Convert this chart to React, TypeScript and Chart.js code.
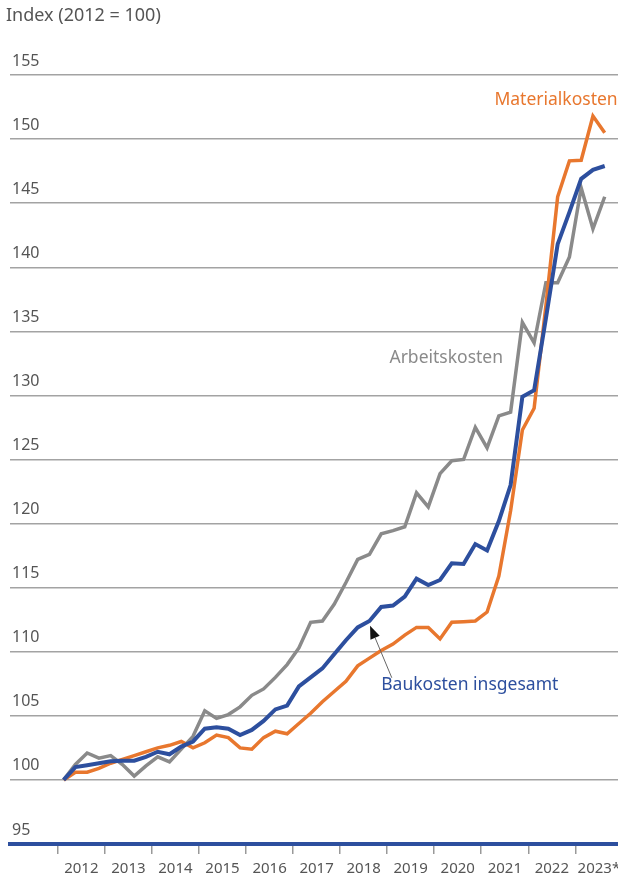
import { useEffect, useRef } from "react";
import { Chart, registerables } from "chart.js";

Chart.register(...registerables);

// Quarterly values, 2012 Q1 … 2023 Q3 (index 2012 = 100)
const yearLabels = ["2012", "2013", "2014", "2015", "2016", "2017", "2018", "2019", "2020", "2021", "2022", "2023*"];

const baukosten = [
  100.0, 101.0, 101.15, 101.3, 101.45, 101.5, 101.5, 101.8, 102.2, 102.0, 102.6, 103.0,
  104.0, 104.1, 104.0, 103.5, 103.9, 104.6, 105.5, 105.8, 107.3, 108.0, 108.7, 109.8,
  110.9, 111.9, 112.4, 113.5, 113.6, 114.3, 115.7, 115.2, 115.6, 116.9, 116.85, 118.4,
  117.9, 120.2, 123.0, 129.9, 130.4, 136.0, 141.8, 144.3, 146.9, 147.6, 147.9,
];

const materialkosten = [
  100.0, 100.6, 100.6, 100.9, 101.3, 101.6, 101.9, 102.2, 102.5, 102.7, 103.0, 102.5,
  102.9, 103.5, 103.3, 102.5, 102.4, 103.3, 103.8, 103.6, 104.4, 105.2, 106.1, 106.9,
  107.7, 108.9, 109.5, 110.1, 110.6, 111.3, 111.9, 111.9, 111.0, 112.3, 112.35, 112.4,
  113.1, 115.9, 121.0, 127.3, 129.0, 137.0, 145.5, 148.3, 148.35, 151.8, 150.5,
];

const arbeitskosten = [
  100.0, 101.2, 102.1, 101.7, 101.9, 101.2, 100.3, 101.1, 101.8, 101.4, 102.4, 103.4,
  105.4, 104.8, 105.1, 105.7, 106.6, 107.1, 108.0, 109.0, 110.3, 112.3, 112.4, 113.7,
  115.4, 117.2, 117.6, 119.2, 119.45, 119.75, 122.4, 121.3, 123.9, 124.9, 125.0, 127.5,
  125.9, 128.4, 128.7, 135.7, 134.1, 138.8, 138.8, 140.8, 146.2, 143.0, 145.5,
];

const yMin = 95;
const yMax = 155;
const yStep = 5;
const xMin = -4.56;
const xMax = 47.13;

const BLUE = "#2d4f9e";
const ORANGE = "#e8772e";
const GRAY = "#8a8a8a";
const TEXT = "#555555";
const FONT = '"Noto Sans", "Open Sans", sans-serif';

// Series labels anchored in data units (x = quarter index, y = index value)
const seriesLabels = [
  { text: "Materialkosten", color: ORANGE, x: 47.1, y: 153.05, align: "right" as CanvasTextAlign },
  { text: "Arbeitskosten", color: GRAY, x: 27.7, y: 132.9, align: "left" as CanvasTextAlign },
  { text: "Baukosten insgesamt", color: BLUE, x: 27.0, y: 107.4, align: "left" as CanvasTextAlign },
];
const arrowFrom = { x: 27.9, y: 107.97 };
const arrowTo = { x: 26.05, y: 112.03 };

const toPoints = (arr: number[]) => arr.map((y, i) => ({ x: i, y }));

const labelPlugin = {
  id: "seriesLabels",
  afterDatasetsDraw(chart: any) {
    const { ctx, scales } = chart;
    const xs = scales.x;
    const ys = scales.y;
    ctx.save();
    ctx.font = `17.5px ${FONT}`;
    ctx.textBaseline = "middle";
    for (const l of seriesLabels) {
      ctx.fillStyle = l.color;
      ctx.textAlign = l.align;
      ctx.fillText(l.text, xs.getPixelForValue(l.x), ys.getPixelForValue(l.y));
    }
    // arrow
    const x1 = xs.getPixelForValue(arrowFrom.x);
    const y1 = ys.getPixelForValue(arrowFrom.y);
    const x2 = xs.getPixelForValue(arrowTo.x);
    const y2 = ys.getPixelForValue(arrowTo.y);
    const ang = Math.atan2(y2 - y1, x2 - x1);
    const headLen = 13;
    const headW = 5;
    const bx = x2 - headLen * Math.cos(ang);
    const by = y2 - headLen * Math.sin(ang);
    ctx.strokeStyle = "#666666";
    ctx.lineWidth = 1;
    ctx.beginPath();
    ctx.moveTo(x1, y1);
    ctx.lineTo(bx, by);
    ctx.stroke();
    ctx.fillStyle = "#111111";
    ctx.beginPath();
    ctx.moveTo(x2, y2);
    ctx.lineTo(bx + headW * Math.sin(ang), by - headW * Math.cos(ang));
    ctx.lineTo(bx - headW * Math.sin(ang), by + headW * Math.cos(ang));
    ctx.closePath();
    ctx.fill();
    ctx.restore();
  },
};

export default function App() {
  const canvasRef = useRef<HTMLCanvasElement | null>(null);

  useEffect(() => {
    if (!canvasRef.current) return;
    Chart.defaults.font.family = FONT;
    const chart = new Chart(canvasRef.current, {
      type: "line",
      data: {
        datasets: [
          {
            label: "Baukosten insgesamt",
            data: toPoints(baukosten),
            borderColor: BLUE,
            borderWidth: 4,
            pointRadius: 0,
            tension: 0,
          },
          {
            label: "Materialkosten",
            data: toPoints(materialkosten),
            borderColor: ORANGE,
            borderWidth: 3.5,
            pointRadius: 0,
            tension: 0,
          },
          {
            label: "Arbeitskosten",
            data: toPoints(arbeitskosten),
            borderColor: GRAY,
            borderWidth: 3.5,
            pointRadius: 0,
            tension: 0,
          },
        ],
      },
      options: {
        animation: false,
        responsive: false,
        devicePixelRatio: 1,
        layout: { padding: { left: 6, right: 0, top: 0, bottom: -7 } },
        plugins: {
          legend: { display: false },
          tooltip: { enabled: false },
          title: {
            display: true,
            text: "Index (2012 = 100)",
            align: "start",
            color: TEXT,
            font: { size: 18, weight: "normal", family: FONT },
            padding: { top: 5, bottom: 48.4 },
          },
        },
        scales: {
          x: {
            type: "linear",
            min: xMin,
            max: xMax,
            afterBuildTicks: (scale: any) => {
              scale.ticks = yearLabels.map((_, k) => ({ value: -0.5 + 4 * k }));
            },
            ticks: {
              autoSkip: false,
              maxRotation: 0,
              minRotation: 0,
              labelOffset: 23.6,
              padding: 6,
              color: TEXT,
              font: { size: 15, family: FONT },
              callback: (_v: any, i: number) => yearLabels[i],
            },
            grid: {
              drawOnChartArea: false,
              drawTicks: true,
              tickLength: 10,
              color: "#999999",
              lineWidth: 1.5,
            },
            border: { display: true, color: BLUE, width: 4 },
          },
          y: {
            min: yMin,
            max: yMax,
            ticks: {
              stepSize: yStep,
              mirror: true,
              padding: 2,
              labelOffset: -14,
              color: TEXT,
              font: { size: 16, family: FONT },
            },
            grid: {
              drawTicks: false,
              lineWidth: 1.5,
              color: (c: any) => (c.tick && c.tick.value === yMin ? "rgba(0,0,0,0)" : "#a3a3a3"),
            },
            border: { display: false },
          },
        },
      },
      plugins: [labelPlugin],
    } as any);
    return () => chart.destroy();
  }, []);

  return (
    <div style={{ position: "absolute", left: 0, top: 0, width: 618, height: 877, background: "#fff" }}>
      <canvas ref={canvasRef} width={618} height={877} />
    </div>
  );
}
